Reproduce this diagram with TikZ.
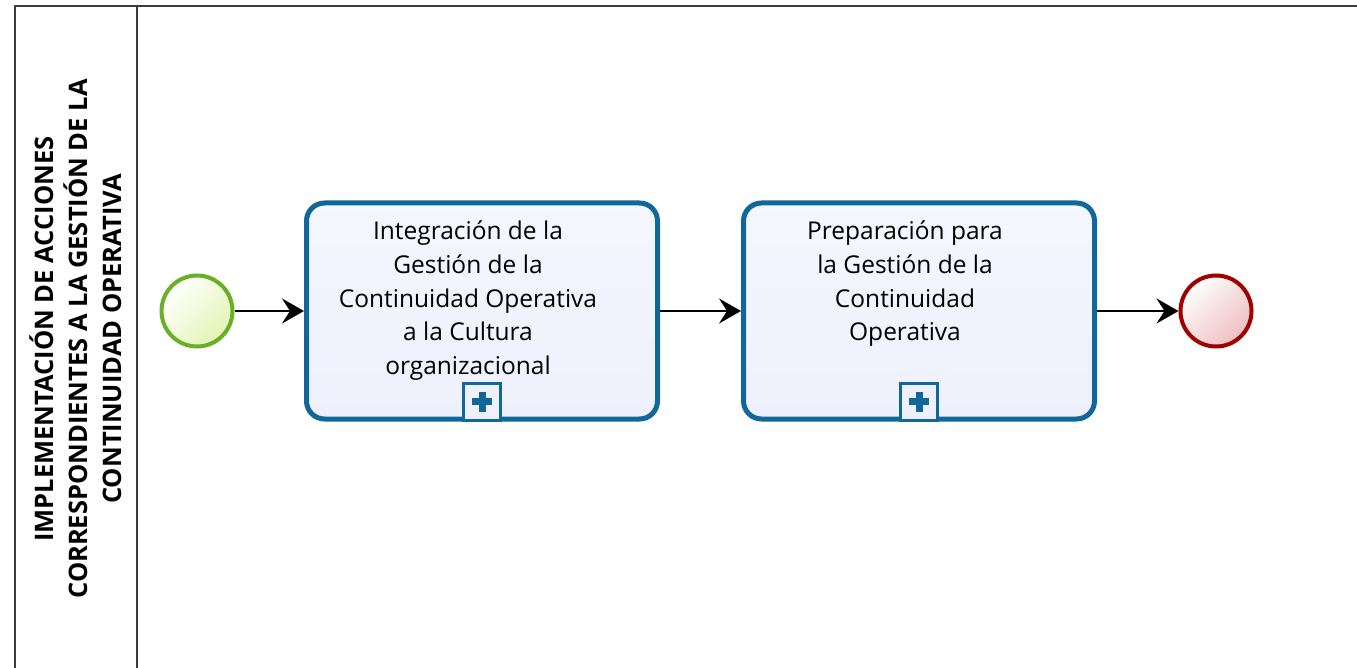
\documentclass[tikz,border=0pt]{standalone}
\usepackage{fontspec}
\setmainfont{Open Sans}
\usetikzlibrary{arrows.meta,positioning}
\definecolor{taskblue}{RGB}{16,104,154}
\definecolor{taskfill}{RGB}{238,241,253}
\definecolor{startgreen}{RGB}{106,176,38}
\definecolor{startfill}{RGB}{226,244,180}
\definecolor{endred}{RGB}{160,0,0}
\definecolor{endfill}{RGB}{238,190,190}
\definecolor{lanegray}{RGB}{60,60,60}
\begin{document}
\begin{tikzpicture}[x=1pt, y=-1pt, style={
    event/.style={
      circle,
      minimum size=71pt,
      line width=4pt,
      inner sep=0pt,
    },
    startstyle/.style={
      event,
      draw=startgreen,
      top color=white, bottom color=startfill, shading angle=45,
    },
    endstyle/.style={
      event,
      draw=endred,
      top color=white, bottom color=endfill, shading angle=45,
    },
    taskstyle/.style={
      rectangle, rounded corners=18pt,
      minimum width=351pt,
      minimum height=216pt,
      line width=5pt,
      draw=taskblue,
      top color=taskfill!60!white, bottom color=taskfill,
    },
    tasklabel/.style={
      anchor=north, yshift=-20pt, xshift=-14pt,
      inner sep=0pt, align=center,
      font=\fontsize{24.5}{33.8}\selectfont,
    },
    plusbox/.style={
      rectangle, draw=taskblue, line width=3pt,
      fill=taskfill, minimum size=37pt, anchor=south,
    },
    lanestyle/.style={draw=lanegray, line width=2pt},
    lanetitle/.style={
      rotate=90, align=center,
      font=\bfseries\fontsize{25.5}{34}\selectfont,
    },
    myarrow/.style={-{Stealth[length=22pt, width=25pt, inset=8pt]}, line width=2pt}
  }]
  \useasboundingbox (0,0) rectangle (1357,668);
  % pool and lane
  \draw[lanestyle] (1360,6) -- (15,6) -- (15,672);
  \draw[lanestyle] (137,6) -- (137,672);
  \node[lanetitle] (lane) at (76,339) {
    IMPLEMENTACIÓN DE ACCIONES\\
    CORRESPONDIENTES A LA GESTIÓN DE LA\\
    CONTINUIDAD OPERATIVA
  };
  \draw[]
    node[startstyle] (start) at (197,311) {}
    node[taskstyle, right of=start, node distance=285pt,
      label={[tasklabel]north:{Integración de la\\Gestión de la\\
        Continuidad Operativa\\a la Cultura\\organizacional}}] (integ) {}
    node[taskstyle, right of=integ, node distance=437pt,
      label={[tasklabel]north:{Preparación para\\la Gestión de la\\
        Continuidad\\Operativa}}] (prep) {}
    node[endstyle, right of=prep, node distance=297pt] (end) {}
  ;
  % collapsed subprocess markers
  \foreach \task in {integ, prep} {
    \node[plusbox] (\task-plus) at (\task.south) {};
    \draw[taskblue, line width=7pt]
      ([xshift=-10pt]\task-plus.center) -- ([xshift=10pt]\task-plus.center)
      ([yshift=-10pt]\task-plus.center) -- ([yshift=10pt]\task-plus.center);
  }
  \draw[myarrow] (start) -- (integ);
  \draw[myarrow] (integ) -- (prep);
  \draw[myarrow] (prep) -- (end);
\end{tikzpicture}
\end{document}
